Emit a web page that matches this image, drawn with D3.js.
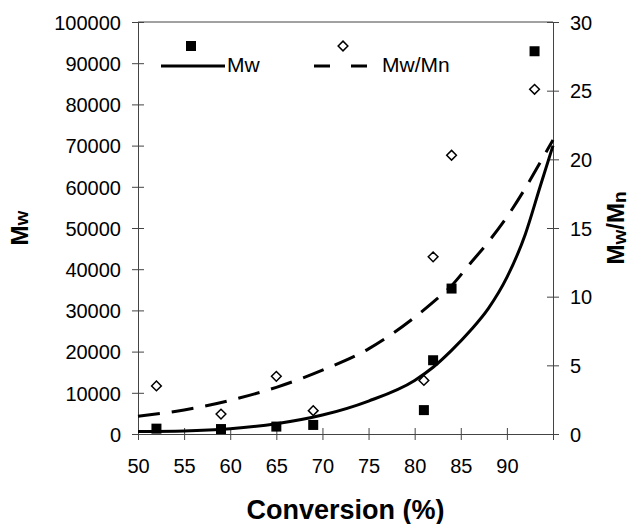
<!DOCTYPE html>
<html>
<head>
<meta charset="utf-8">
<script src="https://cdn.jsdelivr.net/npm/d3@7"></script>
<style>
  html, body { margin: 0; padding: 0; background: #fff; }
  text { font-family: "Liberation Sans", Arial, sans-serif; fill: #000; }
</style>
</head>
<body>
<svg id="chart" width="631" height="524"></svg>
<script>
// ---- data ----
const conversion = [52, 59, 65, 69, 81, 82, 84, 93];
const mwValues = [1300, 1200, 1800, 2200, 5800, 17900, 35300, 92900];
const pdiValues = [3.5, 1.45, 4.2, 1.7, 3.9, 12.9, 20.3, 25.1];

const mwFitX = [50, 55, 60, 65, 70, 75, 80, 82, 84, 86, 88, 90, 92, 93.6, 95];
const mwFitY = [600, 750, 1300, 2500, 4600, 8000, 13000, 16200, 20300, 25000, 30500, 38000, 48500, 60000, 70000];

const pdiFitX = [50, 55, 60, 65, 70, 75, 80, 82, 84, 86, 88, 90, 92, 93.8, 95];
const pdiFitY = [1.3, 1.75, 2.45, 3.4, 4.65, 6.2, 8.5, 9.6, 10.8, 12.4, 14.0, 15.8, 17.9, 20.0, 21.4];

const xTicks = [50, 55, 60, 65, 70, 75, 80, 85, 90, 95];
const xTickLabels = ["50", "55", "60", "65", "70", "75", "80", "85", "90", ""];
const yLeftTicks = [0, 10000, 20000, 30000, 40000, 50000, 60000, 70000, 80000, 90000, 100000];
const yRightTicks = [0, 5, 10, 15, 20, 25, 30];
const legendLabels = ["Mw", "Mw/Mn"];

// ---- layout ----
const L = 138, R = 553, T = 22, B = 434;
const svg = d3.select("#chart");

const x = d3.scaleLinear().domain([50, 95]).range([L, R]);
const yL = d3.scaleLinear().domain([0, 100000]).range([B, T]);
const yR = d3.scaleLinear().domain([0, 30]).range([B, T]);

const axisColor = "#444";

// frame (top line)
svg.append("line").attr("x1", L).attr("x2", R).attr("y1", T).attr("y2", T)
  .attr("stroke", axisColor).attr("stroke-width", 1);

// bottom axis
const gx = svg.append("g").attr("transform", `translate(0,${B})`)
  .call(d3.axisBottom(x).tickValues(xTicks).tickSizeOuter(0)
    .tickFormat((d, i) => xTickLabels[i]));
gx.selectAll(".tick line").attr("y1", -6).attr("y2", 6);
gx.selectAll(".tick text").attr("y", 39).attr("dy", null);

// left axis
const gl = svg.append("g").attr("transform", `translate(${L},0)`)
  .call(d3.axisLeft(yL).tickValues(yLeftTicks).tickSizeOuter(0).tickFormat(d3.format("d")));
gl.selectAll(".tick line").attr("x1", -6).attr("x2", 6);
gl.selectAll(".tick text").attr("x", -17).attr("dy", "0.36em");

// right axis
const gr = svg.append("g").attr("transform", `translate(${R},0)`)
  .call(d3.axisRight(yR).tickValues(yRightTicks).tickSizeOuter(0).tickFormat(d3.format("d")));
gr.selectAll(".tick line").attr("x1", -6).attr("x2", 6);
gr.selectAll(".tick text").attr("x", 17).attr("dy", "0.36em");

[gx, gl, gr].forEach(g => {
  g.select(".domain").attr("stroke", axisColor).attr("stroke-width", 1);
  g.selectAll(".tick line").attr("stroke", axisColor).attr("stroke-width", 1);
  g.selectAll(".tick text").attr("font-size", 20)
    .attr("font-family", "'Liberation Sans', Arial, sans-serif").attr("fill", "#000");
});

// fit lines
const mwLine = d3.line().curve(d3.curveMonotoneX)
  .x(d => x(d[0])).y(d => yL(d[1]));
const pdiLine = d3.line().curve(d3.curveMonotoneX)
  .x(d => x(d[0])).y(d => yR(d[1]));

svg.append("path").datum(d3.zip(pdiFitX, pdiFitY))
  .attr("d", pdiLine).attr("fill", "none").attr("stroke", "#000")
  .attr("stroke-width", 3).attr("stroke-dasharray", "22,12");

svg.append("path").datum(d3.zip(mwFitX, mwFitY))
  .attr("d", mwLine).attr("fill", "none").attr("stroke", "#000")
  .attr("stroke-width", 3);

// points
const sq = 10;
svg.append("g").selectAll("rect").data(d3.zip(conversion, mwValues)).join("rect")
  .attr("x", d => x(d[0]) - sq / 2).attr("y", d => yL(d[1]) - sq / 2)
  .attr("width", sq).attr("height", sq).attr("fill", "#000");

const dia = d3.symbol().type(d3.symbolDiamond2).size(60);
svg.append("g").selectAll("path").data(d3.zip(conversion, pdiValues)).join("path")
  .attr("d", dia)
  .attr("transform", d => `translate(${x(d[0])},${yR(d[1])})`)
  .attr("fill", "#fff").attr("stroke", "#000").attr("stroke-width", 1.5);

// legend
const lg = svg.append("g");
lg.append("rect").attr("x", 191 - sq / 2).attr("y", 46 - sq / 2).attr("width", sq).attr("height", sq).attr("fill", "#000");
lg.append("line").attr("x1", 161).attr("x2", 225).attr("y1", 66).attr("y2", 66)
  .attr("stroke", "#000").attr("stroke-width", 3);
lg.append("text").attr("x", 227).attr("y", 72).attr("font-size", 21).text(legendLabels[0]);

lg.append("line").attr("x1", 314).attr("x2", 367).attr("y1", 66).attr("y2", 66)
  .attr("stroke", "#000").attr("stroke-width", 3).attr("stroke-dasharray", "16,21");
lg.append("path").attr("d", dia).attr("transform", "translate(343,46)")
  .attr("fill", "#fff").attr("stroke", "#000").attr("stroke-width", 1.5);
lg.append("text").attr("x", 382).attr("y", 72).attr("font-size", 21).text(legendLabels[1]);

// axis titles
svg.append("text").attr("x", (L + R) / 2).attr("y", 519).attr("text-anchor", "middle")
  .attr("font-size", 27).attr("font-weight", "bold").text("Conversion (%)");

const yt = svg.append("text").attr("transform", `translate(28,${(T + B) / 2}) rotate(-90)`)
  .attr("text-anchor", "middle").attr("font-weight", "bold");
yt.append("tspan").attr("font-size", 24).text("M");
yt.append("tspan").attr("font-size", 19).text("w");

const yr = svg.append("text").attr("transform", `translate(624,${(T + B) / 2}) rotate(-90)`)
  .attr("text-anchor", "middle").attr("font-weight", "bold");
yr.append("tspan").attr("font-size", 24).text("M");
yr.append("tspan").attr("font-size", 19).attr("dy", 2).text("w");
yr.append("tspan").attr("font-size", 24).attr("dy", -2).text("/M");
yr.append("tspan").attr("font-size", 19).attr("dy", 2).text("n");
</script>
</body>
</html>
